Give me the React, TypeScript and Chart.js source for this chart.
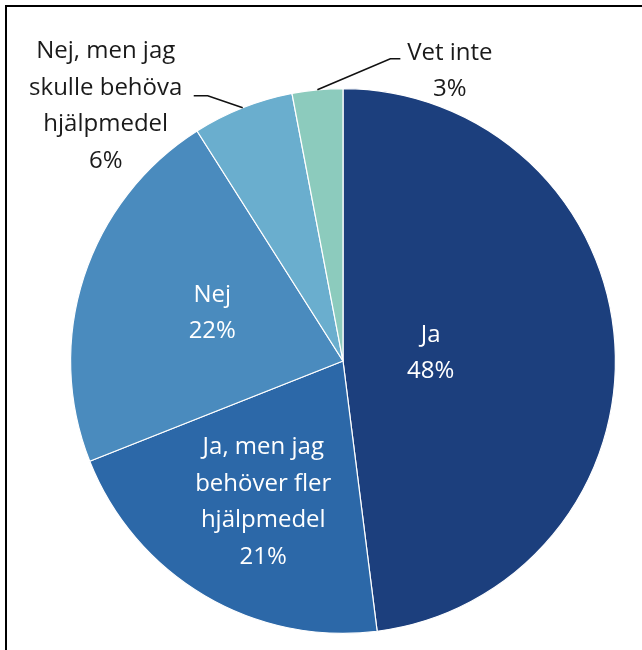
import React, { useEffect, useRef } from "react";
import { Chart, registerables } from "chart.js";

Chart.register(...registerables);

// ---- data ----
const categories = [
  "Ja",
  "Ja, men jag behöver fler hjälpmedel",
  "Nej",
  "Nej, men jag skulle behöva hjälpmedel",
  "Vet inte",
];
const values = [48, 21, 22, 6, 3];
const labelLines = [
  ["Ja"],
  ["Ja, men jag", "behöver fler", "hjälpmedel"],
  ["Nej"],
  ["Nej, men jag", "skulle behöva", "hjälpmedel"],
  ["Vet inte"],
];
const colors = ["#1C3F7D", "#2C68A8", "#4A8BBE", "#6AAECE", "#8CCBBD"];

// ---- label placement style ----
type Place =
  | { kind: "in"; r: number; da: number }
  | { kind: "out"; elbow: [number, number]; tail: number; text: [number, number]; firstBaseline: number };

const placements: Place[] = [
  { kind: "in", r: 0.324, da: -2.6 },
  { kind: "in", r: 0.589, da: -0.8 },
  { kind: "in", r: 0.513, da: 2.7 },
  { kind: "out", elbow: [-35, -12], tail: -14, text: [-88, 0], firstBaseline: -37.5 },
  { kind: "out", elbow: [73, -31], tail: 10, text: [49.5, 0], firstBaseline: 1 },
];

const FONT_SIZE = 24;
const LINE_H = 36.5;
const FONT = `500 ${FONT_SIZE}px "Open Sans", sans-serif`;
const CAP = FONT_SIZE * 0.714;

const labelPlugin = {
  id: "pieLabels",
  afterDatasetsDraw(chart: any) {
    const ctx: CanvasRenderingContext2D = chart.ctx;
    const meta = chart.getDatasetMeta(0);
    ctx.save();
    ctx.font = FONT;
    ctx.textAlign = "center";
    ctx.textBaseline = "alphabetic";
    meta.data.forEach((arc: any, i: number) => {
      const { x, y, startAngle, endAngle, outerRadius } = arc.getProps(
        ["x", "y", "startAngle", "endAngle", "outerRadius"],
        true
      );
      const mid = (startAngle + endAngle) / 2;
      const lines = [...labelLines[i], `${values[i]}%`];
      const p = placements[i];
      if (p.kind === "in") {
        const a = mid + (p.da * Math.PI) / 180;
        const cx = x + Math.cos(a) * outerRadius * p.r;
        const cy = y + Math.sin(a) * outerRadius * p.r;
        ctx.fillStyle = "#ffffff";
        const top = cy - ((lines.length - 1) * LINE_H) / 2 + CAP / 2;
        lines.forEach((t, k) => ctx.fillText(t, cx, top + k * LINE_H));
      } else {
        const ex = x + Math.cos(mid) * outerRadius;
        const ey = y + Math.sin(mid) * outerRadius;
        const bx = ex + p.elbow[0];
        const by = ey + p.elbow[1];
        const tx = bx + p.tail;
        ctx.strokeStyle = "#111111";
        ctx.lineWidth = 1.6;
        ctx.beginPath();
        ctx.moveTo(ex, ey);
        ctx.lineTo(bx, by);
        ctx.lineTo(tx, by);
        ctx.stroke();
        ctx.fillStyle = "#1a1a1a";
        const cx = tx + p.text[0];
        const first = by + p.firstBaseline;
        lines.forEach((t, k) => ctx.fillText(t, cx, first + k * LINE_H));
      }
    });
    ctx.restore();
  },
};

export default function App() {
  const ref = useRef<HTMLCanvasElement | null>(null);
  useEffect(() => {
    if (!ref.current) return;
    const chart = new Chart(ref.current, {
      type: "pie",
      data: {
        labels: categories,
        datasets: [
          {
            data: values,
            backgroundColor: colors,
            borderColor: "#ffffff",
            borderWidth: 1.2,
          },
        ],
      },
      options: {
        responsive: false,
        animation: false,
        layout: { padding: { left: 70, right: 26, top: 87, bottom: 15 } },
        plugins: {
          legend: { display: false },
          tooltip: { enabled: false },
        },
      },
      plugins: [labelPlugin],
    });
    return () => chart.destroy();
  }, []);

  return (
    <div
      style={{
        position: "fixed",
        left: 0,
        top: 0,
        width: 642,
        height: 650,
        background: "#ffffff",
        overflow: "hidden",
      }}
    >
      <div
        style={{
          position: "absolute",
          left: 5,
          top: 5,
          width: 637,
          height: 645,
          borderTop: "2px solid #000",
          borderLeft: "2px solid #000",
          boxSizing: "border-box",
        }}
      />
      <canvas
        ref={ref}
        width={642}
        height={650}
        style={{ position: "absolute", left: 0, top: 0, width: 642, height: 650 }}
      />
    </div>
  );
}
